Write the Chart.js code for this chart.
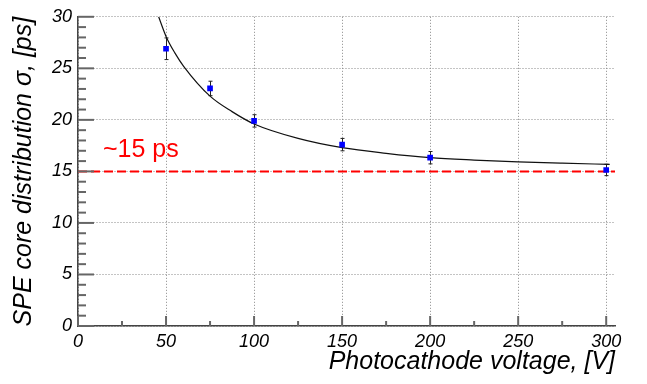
<!DOCTYPE html>
<html>
<head>
<meta charset="utf-8">
<script src="https://cdn.jsdelivr.net/npm/chart.js@4"></script>
<style>
  body { margin: 0; background: #fff; }
  #wrap { width: 647px; height: 384px; }
</style>
</head>
<body>
<div id="wrap"><canvas id="myChart"></canvas></div>
<script>
// measured points
const voltages = [50, 75, 100, 150, 200, 300];
const sigmas = [26.9, 23.05, 19.9, 17.6, 16.33, 15.14];
const sigmaErr = [1.05, 0.7, 0.6, 0.6, 0.6, 0.55];

// fit curve
const fitX = [45.8, 50, 55, 60, 75, 87.5, 100, 125, 150, 175, 200, 225, 250, 275, 302];
const fitY = [30, 28.1, 26.5, 25.2, 22.3, 20.8, 19.6, 18.2, 17.3, 16.75, 16.33, 16.1, 15.93, 15.8, 15.68];

const refLevel = 15;
const refText = "~15 ps";

const xTicks = [0, 50, 100, 150, 200, 250, 300];
const yTicks = [0, 5, 10, 15, 20, 25, 30];

const FONT = "'Liberation Sans', Arial, Helvetica, sans-serif";

const extras = {
  id: "extras",
  beforeDatasetsDraw(chart) {
    const { ctx } = chart;
    const xs = chart.scales.x, ys = chart.scales.y;
    ctx.save();
    ctx.strokeStyle = "#222";
    ctx.lineWidth = 1;
    voltages.forEach((v, i) => {
      const px = Math.round(xs.getPixelForValue(v)) + 0.5;
      const top = ys.getPixelForValue(sigmas[i] + sigmaErr[i]);
      const bot = ys.getPixelForValue(sigmas[i] - sigmaErr[i]);
      ctx.beginPath();
      ctx.moveTo(px, top); ctx.lineTo(px, bot);
      ctx.moveTo(px - 2, top); ctx.lineTo(px + 2, top);
      ctx.moveTo(px - 2, bot); ctx.lineTo(px + 2, bot);
      ctx.stroke();
    });
    ctx.restore();
  },
  afterDraw(chart) {
    const { ctx, chartArea } = chart;
    const xs = chart.scales.x, ys = chart.scales.y;
    ctx.save();
    ctx.strokeStyle = "#666";
    ctx.lineWidth = 2;
    // inward ticks on y axis
    for (let v = 0; v <= 30; v++) {
      const py = ys.getPixelForValue(v);
      const len = v % 5 === 0 ? 16 : 8;
      ctx.beginPath();
      ctx.moveTo(chartArea.left, py); ctx.lineTo(chartArea.left + len, py);
      ctx.stroke();
    }
    // inward ticks on x axis
    for (let v = 0; v <= 300; v += 25) {
      const px = xs.getPixelForValue(v);
      const len = v % 50 === 0 ? 10 : 5;
      ctx.beginPath();
      ctx.moveTo(px, chartArea.bottom); ctx.lineTo(px, chartArea.bottom - len);
      ctx.stroke();
    }
    // reference label
    ctx.fillStyle = "#ff0000";
    ctx.font = "25px " + FONT;
    ctx.textAlign = "left";
    ctx.textBaseline = "alphabetic";
    ctx.fillText(refText, xs.getPixelForValue(14.2), ys.getPixelForValue(16.4));
    ctx.restore();
  }
};

const ctx = document.getElementById("myChart").getContext("2d");
const myChart = new Chart(ctx, {
  type: "scatter",
  data: {
    datasets: [
      {
        label: "data",
        data: voltages.map((v, i) => ({ x: v, y: sigmas[i] })),
        backgroundColor: "#0000ff",
        borderColor: "#0000ff",
        pointStyle: "rect",
        pointRadius: 4,
        borderWidth: 0,
      },
      {
        label: "fit",
        type: "line",
        data: fitX.map((v, i) => ({ x: v, y: fitY[i] })),
        borderColor: "#111",
        borderWidth: 1.2,
        pointRadius: 0,
        cubicInterpolationMode: "monotone",
        fill: false,
      },
      {
        label: "ref",
        type: "line",
        data: [{ x: 0, y: refLevel }, { x: 305, y: refLevel }],
        borderColor: "#ff0000",
        borderWidth: 2,
        borderDash: [9, 4],
        pointRadius: 0,
        fill: false,
      },
    ],
  },
  options: {
    responsive: true,
    maintainAspectRatio: false,
    animation: false,
    layout: { padding: { top: 15, right: 32, left: 0, bottom: 0 } },
    plugins: { legend: { display: false }, tooltip: { enabled: false } },
    scales: {
      x: {
        type: "linear",
        min: 0,
        max: 305,
        afterBuildTicks: (s) => { s.ticks = xTicks.map((v) => ({ value: v })); },
        afterFit: (s) => { s.height = 58; },
        grid: { color: "#888", lineWidth: 1, drawTicks: false },
        border: { display: true, color: "#444", width: 1.5, dash: [1, 2] },
        ticks: {
          padding: 5,
          color: "#000",
          font: { family: FONT, size: 18, style: "italic" },
          maxRotation: 0,
        },
        title: {
          display: true,
          text: "Photocathode voltage, [V]",
          align: "end",
          color: "#000",
          padding: { top: 0, bottom: 7 },
          font: { family: FONT, size: 25, style: "italic" },
        },
      },
      y: {
        type: "linear",
        min: 0,
        max: 30,
        afterBuildTicks: (s) => { s.ticks = yTicks.map((v) => ({ value: v })); },
        afterFit: (s) => { s.width = 78; },
        grid: { color: "#888", lineWidth: 1, drawTicks: false },
        border: { display: true, color: "#444", width: 1.5, dash: [1, 2] },
        ticks: {
          padding: 6,
          color: "#000",
          font: { family: FONT, size: 18, style: "italic" },
        },
        title: {
          display: true,
          text: "SPE core distribution σ, [ps]",
          align: "end",
          color: "#000",
          padding: { top: 9, bottom: 0 },
          font: { family: FONT, size: 25, style: "italic" },
        },
      },
    },
  },
  plugins: [extras],
});
</script>
</body>
</html>
